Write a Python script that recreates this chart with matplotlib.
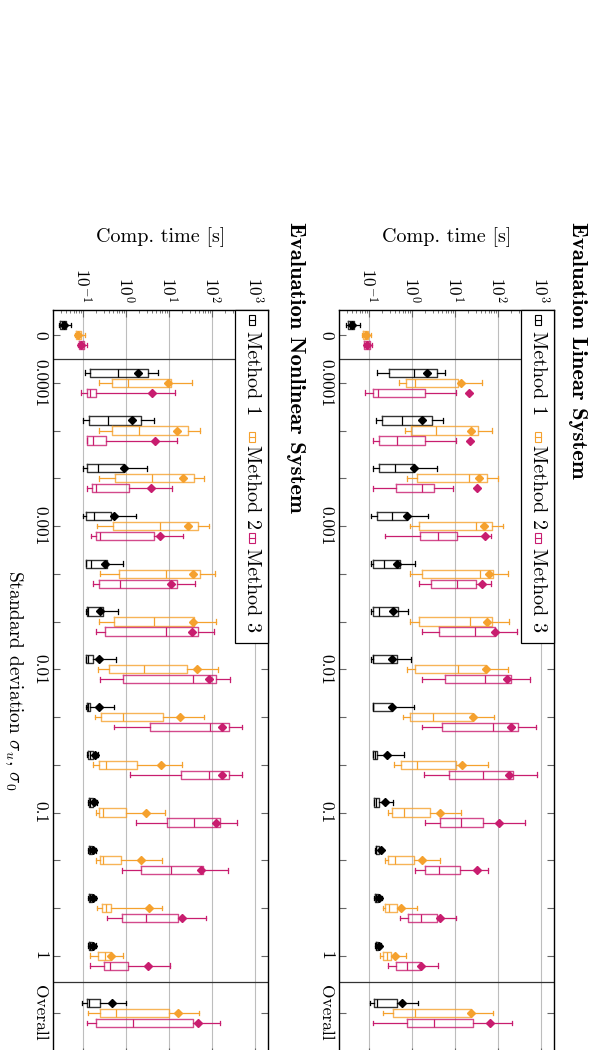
import matplotlib
matplotlib.use("Agg")
import matplotlib.pyplot as plt
from matplotlib.patches import Rectangle
from matplotlib.lines import Line2D
from matplotlib.ticker import LogLocator, NullFormatter, FixedLocator

plt.rcParams["font.family"] = "cmr10"
plt.rcParams["mathtext.fontset"] = "cm"
plt.rcParams["axes.formatter.use_mathtext"] = True

# categories along the (rotated) horizontal axis of the original chart
sigma_labels = ["0", "0.0001", "", "", "0.001", "", "", "0.01", "", "",
                "0.1", "", "", "1", "Overall"]
methods = ["Method 1", "Method 2", "Method 3"]
colors = ["#000000", "#F5A12E", "#C81D6F"]
time_ticks = [0.1, 1, 10, 100, 1000]

# rows: whisker low, q1, median, q3, whisker high, mean  [s]
lin_m1 = [
    (0.0295, 0.0324, 0.0363, 0.0437, 0.0603, 0.0398),
    (0.155, 0.288, 1.12, 3.85, 5.75, 2.19),
    (0.145, 0.195, 0.575, 2.88, 5.25, 1.74),
    (0.126, 0.166, 0.398, 1.12, 3.85, 1.10),
    (0.112, 0.151, 0.347, 0.741, 2.40, 0.741),
    (0.110, 0.120, 0.224, 0.525, 1.17, 0.457),
    (0.112, 0.120, 0.166, 0.479, 0.813, 0.355),
    (0.112, 0.120, 0.126, 0.437, 0.933, 0.339),
    (0.120, 0.123, 0.126, 0.347, 1.10, 0.339),
    (0.122, 0.122, 0.135, 0.151, 0.631, 0.257),
    (0.132, 0.132, 0.141, 0.166, 0.355, 0.234),
    (0.135, 0.141, 0.148, 0.166, 0.195, 0.186),
    (0.132, 0.138, 0.148, 0.158, 0.195, 0.166),
    (0.135, 0.141, 0.148, 0.158, 0.190, 0.166),
    (0.105, 0.132, 0.155, 0.437, 1.40, 0.589),
]
lin_m2 = [
    (0.0676, 0.0708, 0.0813, 0.0955, 0.110, 0.0851),
    (0.501, 0.708, 1.17, 11.7, 42.7, 13.5),
    (0.692, 0.955, 3.55, 34.7, 72.4, 23.4),
    (0.776, 1.32, 21.4, 56.2, 100, 36.3),
    (0.871, 1.41, 30.2, 70.8, 132, 47.9),
    (0.891, 1.66, 38.0, 75.9, 170, 60.3),
    (0.871, 1.48, 21.9, 70.8, 182, 56.2),
    (0.741, 1.17, 11.5, 51.3, 170, 51.3),
    (0.603, 0.912, 3.09, 25.1, 79.4, 26.3),
    (0.372, 0.562, 1.29, 10.5, 58.9, 14.8),
    (0.269, 0.347, 0.661, 2.63, 13.5, 4.57),
    (0.234, 0.275, 0.398, 1.12, 4.47, 1.70),
    (0.209, 0.240, 0.288, 0.447, 1.29, 0.550),
    (0.178, 0.209, 0.257, 0.324, 0.724, 0.398),
    (0.209, 0.363, 1.19, 24.0, 74.1, 23.4),
]
lin_m3 = [
    (0.0741, 0.0776, 0.0891, 0.105, 0.115, 0.0891),
    (0.0813, 0.123, 0.158, 2.00, 10.5, 20.9),
    (0.123, 0.166, 0.437, 2.04, 10.7, 21.9),
    (0.123, 0.417, 1.74, 3.24, 9.12, 31.6),
    (0.234, 1.55, 3.98, 11.2, 67.6, 49.0),
    (1.48, 2.75, 11.2, 30.2, 67.6, 41.7),
    (1.70, 4.27, 29.5, 83.2, 275, 83.2),
    (1.66, 5.75, 50.1, 204, 550, 162),
    (1.70, 4.90, 74.1, 288, 741, 195),
    (1.91, 7.24, 43.7, 224, 813, 182),
    (1.95, 4.47, 13.5, 44.7, 427, 105),
    (1.15, 2.04, 4.17, 12.9, 58.9, 31.6),
    (0.525, 0.813, 1.62, 3.85, 10.7, 4.47),
    (0.275, 0.427, 0.741, 1.55, 3.98, 1.62),
    (0.123, 0.776, 3.16, 26.3, 214, 66.1),
]
nonlin_m1 = [
    (0.0269, 0.0288, 0.0331, 0.0407, 0.0513, 0.0355),
    (0.110, 0.148, 0.646, 3.31, 5.50, 1.91),
    (0.100, 0.138, 0.380, 2.24, 4.57, 1.38),
    (0.100, 0.123, 0.224, 0.891, 3.09, 0.871),
    (0.100, 0.115, 0.182, 0.457, 1.74, 0.537),
    (0.115, 0.115, 0.155, 0.363, 0.851, 0.324),
    (0.115, 0.120, 0.132, 0.288, 0.646, 0.251),
    (0.115, 0.115, 0.132, 0.170, 0.575, 0.229),
    (0.115, 0.120, 0.132, 0.148, 0.537, 0.229),
    (0.123, 0.129, 0.141, 0.170, 0.224, 0.186),
    (0.129, 0.135, 0.141, 0.166, 0.209, 0.178),
    (0.129, 0.135, 0.141, 0.158, 0.195, 0.170),
    (0.129, 0.135, 0.141, 0.158, 0.195, 0.166),
    (0.129, 0.135, 0.141, 0.158, 0.200, 0.166),
    (0.0955, 0.123, 0.138, 0.245, 1.02, 0.468),
]
nonlin_m2 = [
    (0.0646, 0.0676, 0.0759, 0.0912, 0.110, 0.0759),
    (0.234, 0.479, 1.10, 11.2, 33.9, 9.33),
    (0.234, 0.468, 2.04, 27.5, 51.3, 15.5),
    (0.234, 0.550, 3.98, 38.0, 63.1, 21.4),
    (0.209, 0.501, 6.17, 47.9, 83.2, 27.5),
    (0.245, 0.676, 8.32, 52.5, 117, 35.5),
    (0.234, 0.537, 4.37, 38.0, 123, 35.5),
    (0.224, 0.398, 2.57, 26.3, 135, 44.7),
    (0.186, 0.263, 0.851, 7.24, 63.1, 18.2),
    (0.170, 0.229, 0.347, 1.78, 20.0, 6.61),
    (0.195, 0.234, 0.288, 1.02, 7.94, 2.95),
    (0.195, 0.245, 0.295, 0.776, 6.76, 2.24),
    (0.214, 0.269, 0.339, 0.437, 6.76, 3.39),
    (0.141, 0.224, 0.324, 0.437, 0.851, 0.457),
    (0.132, 0.245, 0.589, 10.2, 49.0, 15.8),
]
nonlin_m3 = [
    (0.0759, 0.0813, 0.0912, 0.105, 0.120, 0.0912),
    (0.0912, 0.123, 0.148, 0.204, 13.5, 4.07),
    (0.120, 0.123, 0.166, 0.347, 15.1, 4.79),
    (0.123, 0.162, 0.204, 1.17, 11.5, 3.89),
    (0.155, 0.195, 0.245, 4.37, 20.9, 6.03),
    (0.166, 0.234, 0.708, 15.1, 40.7, 11.2),
    (0.204, 0.324, 8.32, 47.9, 112, 33.9),
    (0.251, 0.851, 35.5, 123, 263, 83.2),
    (0.513, 3.63, 91.2, 251, 490, 170),
    (1.20, 19.1, 83.2, 245, 501, 170),
    (1.74, 8.91, 38.9, 155, 380, 120),
    (0.794, 2.24, 11.0, 60.3, 229, 56.2),
    (0.363, 0.813, 2.95, 15.8, 72.4, 20.0),
    (0.141, 0.309, 0.417, 1.10, 10.7, 3.31),
    (0.123, 0.195, 1.48, 35.5, 155, 47.9),
]

W, H = 593, 1050


def px(x, y):
    # pixel (from top-left) -> figure fraction
    return x / W, 1 - y / H


group_pos = list(range(len(sigma_labels) - 1)) + [14.2]
offsets = [-0.21, 0.0, 0.21]

fig = plt.figure(figsize=(W / 100, H / 100), dpi=100)


def draw_panel(left_px, data, title, title_x):
    top_px, bot_px = 310, 1055
    ax = fig.add_axes([left_px / W, 1 - bot_px / H, 215 / W, (bot_px - top_px) / H])
    for m, rows in enumerate(data):
        c = colors[m]
        stats = []
        for lo, q1, med, q3, hi, mean in rows:
            stats.append(dict(whislo=lo, q1=q1, med=med, q3=q3, whishi=hi,
                              mean=mean, fliers=[]))
        ax.bxp(stats, positions=[p + offsets[m] for p in group_pos],
               orientation="horizontal", widths=0.17, capwidths=0.1,
               showmeans=True, showfliers=False, manage_ticks=False,
               boxprops=dict(color=c, linewidth=1.0, alpha=0.8),
               whiskerprops=dict(color=c, linewidth=0.9),
               capprops=dict(color=c, linewidth=0.9),
               medianprops=dict(color=c, linewidth=0.9),
               meanprops=dict(marker="D", markerfacecolor=c,
                              markeredgecolor=c, markersize=4.5))
    ax.set_xscale("log")
    ax.set_xlim(10 ** -1.7, 10 ** 3.3)
    ax.xaxis.set_major_locator(FixedLocator(time_ticks))
    ax.xaxis.set_minor_locator(LogLocator(base=10, subs=range(2, 10), numticks=20))
    ax.xaxis.set_minor_formatter(NullFormatter())
    ax.set_ylim((bot_px - 335) / 47.75, (top_px - 335) / 47.75)
    ax.axhline(0.5, color="#333333", linewidth=0.9)
    ax.axhline(13.55, color="#333333", linewidth=0.9)
    ax.grid(axis="x", which="major", color="#bdbdbd", linewidth=0.8)
    ax.set_axisbelow(True)
    ax.set_yticks(group_pos)
    ax.set_yticklabels(sigma_labels, rotation=-90, fontsize=12.5,
                       va="center", ha="right")
    ax.xaxis.tick_top()
    ax.tick_params(axis="x", which="both", top=True, bottom=True,
                   labeltop=True, labelbottom=False, direction="in",
                   color="#666666")
    ax.tick_params(axis="x", which="major", length=5, pad=5.5,
                   labelrotation=-90, labelsize=12.5)
    ax.tick_params(axis="x", which="minor", length=2.5)
    ax.tick_params(axis="y", left=True, right=True, direction="in",
                   length=5, pad=4, color="#666666")
    for s in ax.spines.values():
        s.set_linewidth(1.0)

    # axis label of time (horizontal after rotation)
    fig.text(*px(left_px + 107.5, 237), "Comp. time [s]", fontsize=14.5,
             ha="center", va="center")
    # title
    fig.text(*px(title_x, 222), title, family="cmb10", fontsize=16.3,
             rotation=-90, ha="center", va="top")

    # legend drawn in place
    lx = left_px + 182
    fig.add_artist(Rectangle(px(lx, 643), 33 / W, (643 - 310) / H,
                             transform=fig.transFigure, facecolor="white",
                             edgecolor="black", linewidth=0.9, zorder=5))
    icon_y = [320, 437, 538]
    text_y = [331, 445, 548]
    for m in range(3):
        cx = lx + 17
        fig.add_artist(Rectangle(px(cx - 3, icon_y[m] + 5), 6 / W, 10 / H,
                                 transform=fig.transFigure, facecolor="white",
                                 edgecolor=colors[m], linewidth=0.8, zorder=6))
        x0, y0 = px(cx - 3, icon_y[m])
        x1, _ = px(cx + 3, icon_y[m])
        fig.add_artist(Line2D([x0, x1], [y0, y0], transform=fig.transFigure,
                              color=colors[m], linewidth=0.8, zorder=7))
        fig.text(*px(cx, text_y[m]), methods[m], fontsize=14.5, rotation=-90,
                 ha="center", va="top", zorder=7)
    return ax


draw_panel(339, [lin_m1, lin_m2, lin_m3], "Evaluation Linear System", 578)
draw_panel(53, [nonlin_m1, nonlin_m2, nonlin_m3], "Evaluation Nonlinear System", 295)

fig.text(*px(14, 680), r"Standard deviation $\sigma_u$, $\sigma_0$", fontsize=14,
         rotation=-90, ha="center", va="center")

fig.savefig("out.png", dpi=100)
